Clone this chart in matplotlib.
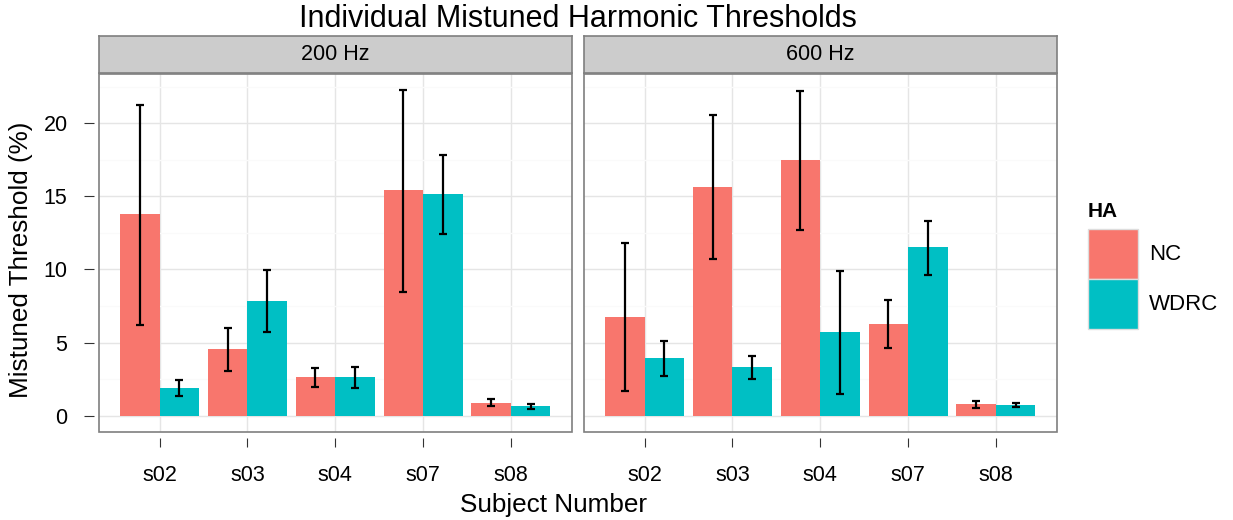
import matplotlib.pyplot as plt
import numpy as np
from matplotlib.patches import Patch, Rectangle

plt.rcParams["font.family"] = ["Liberation Sans", "DejaVu Sans"]

subjects = ["s02", "s03", "s04", "s07", "s08"]
facets = ["200 Hz", "600 Hz"]
groups = ["NC", "WDRC"]
colors = {"NC": "#F8766D", "WDRC": "#00BFC4"}

# mean threshold, lower and upper error bounds per facet / group
mean_200_nc = [13.77, 4.55, 2.64, 15.41, 0.87]
low_200_nc = [6.19, 3.05, 1.96, 8.49, 0.66]
high_200_nc = [21.27, 6.00, 3.26, 22.28, 1.12]
mean_200_wdrc = [1.89, 7.83, 2.64, 15.14, 0.66]
low_200_wdrc = [1.37, 5.69, 1.89, 12.43, 0.46]
high_200_wdrc = [2.43, 9.95, 3.30, 17.82, 0.78]

mean_600_nc = [6.74, 15.61, 17.45, 6.26, 0.80]
low_600_nc = [1.69, 10.72, 12.70, 4.62, 0.55]
high_600_nc = [11.79, 20.53, 22.21, 7.90, 1.00]
mean_600_wdrc = [3.94, 3.32, 5.71, 11.52, 0.73]
low_600_wdrc = [2.73, 2.50, 1.46, 9.63, 0.59]
high_600_wdrc = [5.14, 4.05, 9.88, 13.31, 0.89]

data = {
    "200 Hz": {
        "NC": (mean_200_nc, low_200_nc, high_200_nc),
        "WDRC": (mean_200_wdrc, low_200_wdrc, high_200_wdrc),
    },
    "600 Hz": {
        "NC": (mean_600_nc, low_600_nc, high_600_nc),
        "WDRC": (mean_600_wdrc, low_600_wdrc, high_600_wdrc),
    },
}

W, H = 1233, 520
fig = plt.figure(figsize=(W / 100, H / 100), dpi=100)

FS = 15.5
border = "#7F7F7F"
panel_x = [98.5, 583.5]
panel_w = 473.5
panel_top, panel_bot = 73.5, 432
strip_top = 36

x = np.arange(1, len(subjects) + 1)
bw = 0.45
ymax = max(max(v[2]) for f in data.values() for v in f.values())
pad = ymax * 0.05

for i, facet in enumerate(facets):
    ax = fig.add_axes([panel_x[i] / W, 1 - panel_bot / H,
                       panel_w / W, (panel_bot - panel_top) / H])
    for j, g in enumerate(groups):
        mean, low, high = data[facet][g]
        mean = np.array(mean)
        xs = x + (j - 0.5) * bw
        ax.bar(xs, mean, width=bw, color=colors[g], zorder=2)
        ax.errorbar(xs, mean,
                    yerr=[mean - np.array(low), np.array(high) - mean],
                    fmt="none", ecolor="black", elinewidth=1.6,
                    capsize=3.0, capthick=1.6, zorder=3)

    ax.set_xlim(0.305, 5.695)
    ax.set_ylim(-pad, ymax + pad)
    ax.set_xticks(x)
    ax.set_xticklabels(subjects)
    ax.set_yticks([0, 5, 10, 15, 20])
    ax.set_yticks([2.5, 7.5, 12.5, 17.5, 22.5], minor=True)
    ax.grid(which="major", color="#E5E5E5", linewidth=1.0, zorder=0)
    ax.grid(which="minor", axis="y", color="#FAFAFA", linewidth=1.0, zorder=0)
    ax.set_axisbelow(True)

    # ggplot-style detached ticks: push spines out and hide them
    for s in ["top", "right"]:
        ax.spines[s].set_visible(False)
    ax.spines["left"].set_position(("outward", 3.6))
    ax.spines["bottom"].set_position(("outward", 4.3))
    ax.spines["left"].set_color("none")
    ax.spines["bottom"].set_color("none")
    ax.tick_params(axis="x", which="major", length=6.5, width=0.8,
                   color="#333333", pad=13, labelsize=FS)
    ax.tick_params(axis="y", which="major", length=7.2, width=0.8,
                   color="#333333", pad=11.5, labelsize=FS)
    ax.tick_params(axis="y", which="minor", length=0)
    if i > 0:
        ax.tick_params(axis="y", which="major", length=0, labelleft=False)

    ax.add_patch(Rectangle((0, 0), 1, 1, transform=ax.transAxes, fill=False,
                           edgecolor=border, linewidth=1.2, zorder=5,
                           clip_on=False))

    # facet strip
    sax = fig.add_axes([panel_x[i] / W, 1 - panel_top / H,
                        panel_w / W, (panel_top - strip_top) / H])
    sax.set_facecolor("#CCCCCC")
    sax.set_xticks([])
    sax.set_yticks([])
    for s in sax.spines.values():
        s.set_color(border)
        s.set_linewidth(1.2)
    sax.text(0.5, 0.5, facet, ha="center", va="center", fontsize=FS,
             transform=sax.transAxes)

fig.text(578 / W, 1 - 27 / H, "Individual Mistuned Harmonic Thresholds",
         ha="center", va="baseline", fontsize=22)
fig.text(553.5 / W, 1 - 512 / H, "Subject Number", ha="center",
         va="baseline", fontsize=18.8)
fig.text(21 / W, 1 - 259.5 / H, "Mistuned Threshold (%)", ha="center",
         va="center", rotation=90, fontsize=18.8)

fig.text(1088 / W, 1 - 217 / H, "HA", ha="left", va="baseline",
         fontsize=15, fontweight="bold")
LFS = 16
handles = [Patch(facecolor=colors[g], edgecolor="#DDDDDD", linewidth=1.0)
           for g in groups]
fig.legend(handles, groups, loc="upper left",
           bbox_to_anchor=(1088 / W, 1 - 229 / H), frameon=False,
           fontsize=LFS, handlelength=36 / LFS, handleheight=3.085,
           labelspacing=0, handletextpad=0.5, borderpad=0,
           borderaxespad=0)

fig.savefig("out.png", dpi=100)
